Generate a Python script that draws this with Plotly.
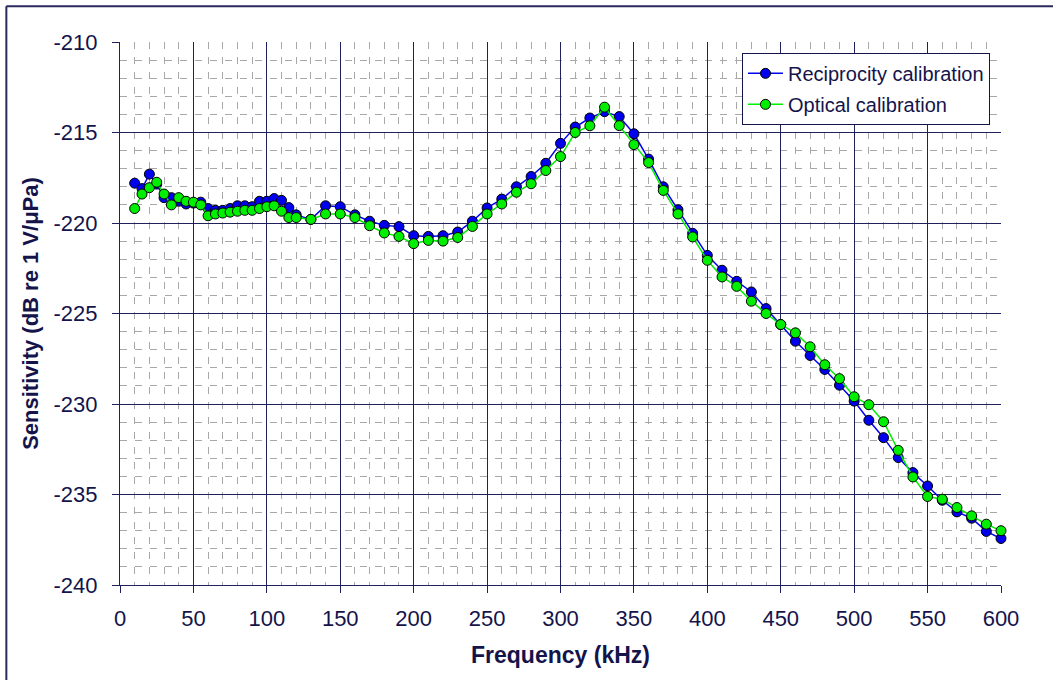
import plotly.graph_objects as go

freq_khz = [10, 15, 20, 25, 30, 35, 40, 45, 50, 55, 60, 65, 70, 75, 80, 85, 90, 95, 100, 105, 110, 115, 120,
            130, 140, 150, 160, 170, 180, 190, 200, 210, 220, 230, 240, 250, 260, 270, 280, 290, 300,
            310, 320, 330, 340, 350, 360, 370, 380, 390, 400, 410, 420, 430, 440, 450, 460, 470, 480,
            490, 500, 510, 520, 530, 540, 550, 560, 570, 580, 590, 600]

reciprocity_db = [-217.8, -218.1, -217.3, -217.85, -218.6, -218.6, -218.8, -218.95, -218.9, -218.85,
                  -219.2, -219.3, -219.3, -219.2, -219.05, -219.05, -219.1, -218.8, -218.8, -218.65,
                  -218.75, -219.15, -219.55,
                  -219.8, -219.05, -219.1, -219.55, -219.9, -220.13, -220.2, -220.7, -220.74, -220.7,
                  -220.5, -219.9, -219.17, -218.68, -218.0, -217.43, -216.7, -215.6, -214.7, -214.2,
                  -213.85, -214.12, -215.07, -216.47, -218.0, -219.27, -220.57, -221.79, -222.61,
                  -223.22, -223.81, -224.73, -225.61, -226.53, -227.32, -228.09, -228.96, -229.84,
                  -230.9, -231.86, -232.96, -233.79, -234.53, -235.32, -235.96, -236.31, -237.04, -237.43]

optical_db = [-219.2, -218.4, -218.05, -217.75, -218.4, -219.0, -218.6, -218.8, -218.85, -219.0,
              -219.6, -219.5, -219.45, -219.4, -219.35, -219.3, -219.3, -219.2, -219.1, -219.05,
              -219.35, -219.7, -219.7,
              -219.8, -219.5, -219.5, -219.7, -220.15, -220.55, -220.74, -221.14, -220.96, -221.0,
              -220.8, -220.19, -219.5, -218.95, -218.3, -217.83, -217.1, -216.33, -215.0, -214.63,
              -213.6, -214.62, -215.67, -216.66, -218.2, -219.5, -220.77, -222.06, -222.98,
              -223.5, -224.32, -225.0, -225.61, -226.07, -226.84, -227.83, -228.6, -229.6,
              -230.04, -230.98, -232.56, -234.03, -235.11, -235.26, -235.72, -236.18, -236.64, -237.0]

series_names = ["Reciprocity calibration", "Optical calibration"]
x_ticks = [0, 50, 100, 150, 200, 250, 300, 350, 400, 450, 500, 550, 600]
y_ticks = [-240, -235, -230, -225, -220, -215, -210]

NAVY = "#14144b"
GRID = "#20205a"
FONT = "Arial, Liberation Sans, sans-serif"

fig = go.Figure()
fig.add_trace(go.Scatter(
    x=freq_khz, y=reciprocity_db, name=series_names[0], mode="lines+markers",
    line=dict(color="#0000ee", width=1.5),
    marker=dict(size=10, color="#0000ee", line=dict(color="#000000", width=1)),
    cliponaxis=False, legendgroup="a"))
fig.add_trace(go.Scatter(
    x=freq_khz, y=optical_db, name=series_names[1], mode="lines+markers",
    line=dict(color="#00ee00", width=1.5),
    marker=dict(size=10, color="#00ee00", line=dict(color="#000000", width=1)),
    cliponaxis=False, legendgroup="b"))

fig.update_layout(
    width=1053, height=680,
    margin=dict(l=120, r=52, t=42, b=95),
    paper_bgcolor="white", plot_bgcolor="white",
    font=dict(family=FONT, color=NAVY),
    showlegend=True,
    legend=dict(x=0.706, y=0.98, xanchor="left", yanchor="top",
                bgcolor="white", bordercolor=NAVY, borderwidth=1,
                font=dict(size=20, family=FONT, color=NAVY),
                itemwidth=35, tracegroupgap=2),
    xaxis=dict(range=[0, 600], tickvals=x_ticks, ticktext=[str(v) for v in x_ticks],
               showgrid=True, gridcolor=GRID, gridwidth=1,
               ticks="outside", ticklen=7, tickcolor=GRID, tickwidth=1,
               tickfont=dict(size=22, family=FONT, color=NAVY),
               ticklabelstandoff=7,
               showline=True, linecolor=GRID, linewidth=1, zeroline=False,
               minor=dict(dtick=10, showgrid=True, gridcolor="#a8a8a8", gridwidth=1,
                          griddash="7px,8px", ticks=""),
               title=dict(text="<b>Frequency (kHz)</b>", font=dict(size=23, family=FONT, color=NAVY),
                          standoff=16)),
    yaxis=dict(range=[-240, -210], tickvals=y_ticks, ticktext=[str(v) for v in y_ticks],
               showgrid=True, gridcolor=GRID, gridwidth=1,
               ticks="outside", ticklen=7, tickcolor=GRID, tickwidth=1,
               tickfont=dict(size=22, family=FONT, color=NAVY),
               ticklabelstandoff=10,
               showline=True, linecolor=GRID, linewidth=1, zeroline=False,
               minor=dict(dtick=1, showgrid=True, gridcolor="#a8a8a8", gridwidth=1,
                          griddash="7px,8px", ticks=""),
               title=dict(text="<b>Sensitivity (dB re 1 V/μPa)</b>",
                          font=dict(size=22, family=FONT, color=NAVY), standoff=8)),
)

# outer chart frame (left and top edges visible in the reference)
fig.add_shape(type="line", xref="paper", yref="paper", x0=-0.129, x1=-0.129, y0=-0.2, y1=1.066,
              line=dict(color="#2a2a5e", width=2))
fig.add_shape(type="line", xref="paper", yref="paper", x0=-0.129, x1=1.1, y0=1.066, y1=1.066,
              line=dict(color="#2a2a5e", width=2))

fig.write_html("out.html")
